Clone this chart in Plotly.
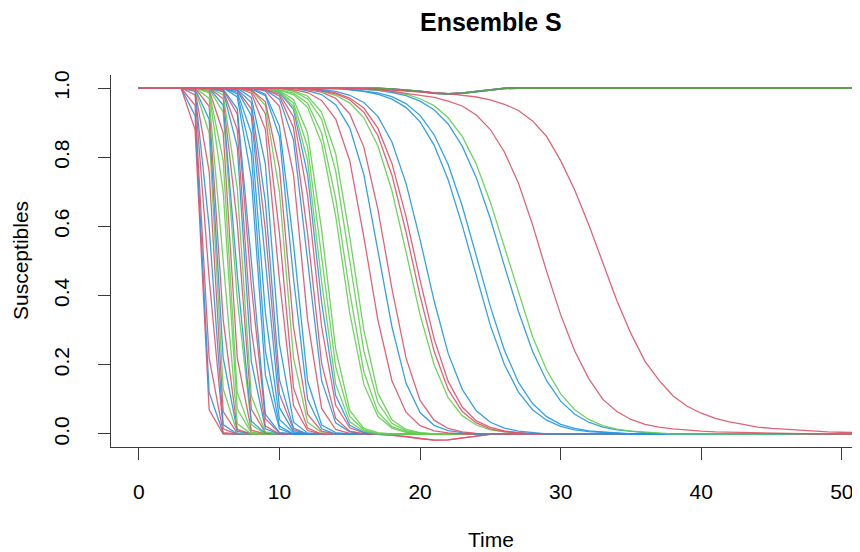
import plotly.graph_objects as go

# ---------------- data ----------------
TIME = list(range(0, 53))

RED, GREEN, BLUE = "#DF536B", "#61D04F", "#2297E6"
FLAT_GREEN = "#5E9E4E"

# each ensemble member: colour, first time step below 1, values of the decline
CURVE_COLORS = [
    RED, BLUE, RED, RED, BLUE, RED, GREEN, BLUE, RED, GREEN,
    GREEN, GREEN, RED, GREEN, BLUE, RED, GREEN, BLUE, RED, RED,
    BLUE, BLUE, BLUE, BLUE, BLUE, RED, BLUE, BLUE, RED, RED,
    GREEN, RED, BLUE, BLUE, RED, BLUE, RED, RED, BLUE, GREEN,
    GREEN, GREEN, GREEN, GREEN, GREEN, GREEN, RED, BLUE, RED, GREEN,
    RED, RED, BLUE, BLUE, BLUE, BLUE, GREEN, RED, RED,
]
CURVE_STARTS = [
    4, 4, 4, 4, 4, 4, 4, 4, 5, 5,
    5, 5, 5, 5, 6, 6, 6, 6, 6, 6,
    6, 7, 7, 7, 7, 7, 7, 8, 8, 8,
    8, 8, 8, 9, 9, 9, 9, 9, 10, 10,
    10, 10, 10, 10, 11, 11, 11, 12, 12, 13,
    13, 13, 13, 15, 15, 16, 16, 16, 16,
]
CURVE_DROPS = [
    [0.88, 0.07],
    [0.92, 0.12, 0.002],
    [0.95, 0.22, 0.004],
    [0.98, 0.45, 0.015],
    [0.99, 0.60, 0.027],
    [0.993, 0.76, 0.065, 0.002],
    [0.997, 0.87, 0.13, 0.003],
    [0.997, 0.91, 0.22, 0.008],
    [0.947, 0.33, 0.013],
    [0.97, 0.5, 0.03],
    [0.986, 0.70, 0.072, 0.003],
    [0.99, 0.79, 0.12, 0.005],
    [0.994, 0.87, 0.22, 0.011],
    [0.997, 0.93, 0.39, 0.027],
    [0.95, 0.46, 0.037, 0.002],
    [0.969, 0.61, 0.072, 0.004],
    [0.98, 0.71, 0.11, 0.006],
    [0.989, 0.83, 0.21, 0.015],
    [0.993, 0.88, 0.30, 0.023],
    [0.995, 0.925, 0.43, 0.044, 0.003],
    [0.996, 0.94, 0.5, 0.057, 0.004],
    [0.974, 0.74, 0.17, 0.015],
    [0.983, 0.81, 0.24, 0.023],
    [0.988, 0.87, 0.35, 0.042, 0.004],
    [0.993, 0.92, 0.5, 0.076, 0.007],
    [0.994, 0.94, 0.59, 0.115, 0.012],
    [0.996, 0.958, 0.67, 0.157, 0.017],
    [0.972, 0.78, 0.26, 0.034, 0.003],
    [0.985, 0.88, 0.445, 0.082, 0.01],
    [0.991, 0.926, 0.58, 0.134, 0.017],
    [0.994, 0.95, 0.70, 0.22, 0.034, 0.004],
    [0.995, 0.96, 0.77, 0.31, 0.057, 0.008],
    [0.997, 0.978, 0.86, 0.45, 0.10, 0.015],
    [0.982, 0.89, 0.55, 0.153, 0.026, 0.004],
    [0.991, 0.947, 0.75, 0.33, 0.074, 0.013, 0.002],
    [0.994, 0.968, 0.85, 0.5, 0.154, 0.032, 0.006],
    [0.996, 0.977, 0.885, 0.58, 0.204, 0.045, 0.008],
    [0.996, 0.982, 0.917, 0.69, 0.31, 0.083, 0.018, 0.003],
    [0.987, 0.938, 0.75, 0.38, 0.111, 0.025, 0.005],
    [0.988, 0.946, 0.79, 0.44, 0.144, 0.035, 0.008],
    [0.99, 0.956, 0.83, 0.52, 0.194, 0.051, 0.012, 0.002],
    [0.992, 0.967, 0.87, 0.59, 0.245, 0.068, 0.016, 0.004],
    [0.994, 0.981, 0.944, 0.84, 0.63, 0.35, 0.144, 0.051, 0.017, 0.005],
    [0.995, 0.985, 0.956, 0.87, 0.68, 0.41, 0.18, 0.064, 0.021, 0.007],
    [0.99, 0.969, 0.91, 0.76, 0.5, 0.24, 0.091, 0.031, 0.01, 0.003],
    [0.992, 0.977, 0.93, 0.81, 0.57, 0.30, 0.118, 0.041, 0.013, 0.004],
    [0.995, 0.987, 0.964, 0.91, 0.79, 0.57, 0.33, 0.154, 0.063, 0.024, 0.009, 0.003],
    [0.992, 0.981, 0.952, 0.885, 0.75, 0.535, 0.31, 0.147, 0.062, 0.025, 0.01, 0.004],
    [0.995, 0.988, 0.97, 0.925, 0.83, 0.65, 0.42, 0.22, 0.097, 0.04, 0.016, 0.006, 0.002],
    [0.99, 0.979, 0.957, 0.914, 0.833, 0.703, 0.527, 0.345, 0.2, 0.105, 0.053, 0.026,
     0.012, 0.006, 0.003],
    [0.992, 0.983, 0.966, 0.93, 0.863, 0.748, 0.584, 0.399, 0.239, 0.129, 0.065, 0.032,
     0.015, 0.007, 0.003],
    [0.993, 0.986, 0.971, 0.942, 0.884, 0.782, 0.629, 0.445, 0.275, 0.152, 0.078, 0.038,
     0.019, 0.009, 0.004],
    [0.995, 0.99, 0.979, 0.958, 0.918, 0.844, 0.725, 0.562, 0.385, 0.233, 0.129, 0.067,
     0.034, 0.017, 0.008, 0.004],
    [0.995, 0.99, 0.982, 0.968, 0.944, 0.902, 0.835, 0.735, 0.603, 0.455, 0.314, 0.201,
     0.121, 0.07, 0.04, 0.022, 0.012, 0.007, 0.004, 0.002],
    [0.996, 0.992, 0.986, 0.975, 0.955, 0.921, 0.865, 0.779, 0.659, 0.515, 0.368, 0.242,
     0.149, 0.088, 0.05, 0.028, 0.016, 0.009, 0.005, 0.003],
    [0.996, 0.993, 0.987, 0.978, 0.962, 0.937, 0.896, 0.832, 0.741, 0.622, 0.486, 0.354,
     0.239, 0.154, 0.095, 0.057, 0.034, 0.02, 0.012, 0.007, 0.004, 0.002],
    [0.997, 0.994, 0.99, 0.982, 0.969, 0.949, 0.914, 0.86, 0.78, 0.67, 0.541, 0.405,
     0.282, 0.185, 0.116, 0.07, 0.042, 0.024, 0.014, 0.008, 0.005, 0.003],
    [0.997, 0.995, 0.99, 0.985, 0.98, 0.973, 0.962, 0.948, 0.922, 0.88, 0.815, 0.725,
     0.605, 0.47, 0.345, 0.24, 0.16, 0.1, 0.065, 0.042, 0.028, 0.02, 0.015, 0.011,
     0.008, 0.006, 0.005, 0.004, 0.003, 0.002],
    [0.998, 0.996, 0.993, 0.99, 0.988, 0.986, 0.984, 0.98, 0.974, 0.966, 0.953, 0.935,
     0.905, 0.86, 0.79, 0.705, 0.605, 0.495, 0.385, 0.29, 0.21, 0.155, 0.11, 0.08,
     0.06, 0.045, 0.035, 0.028, 0.02, 0.016, 0.013, 0.01, 0.008, 0.006, 0.005,
     0.004, 0.004],
]
# members that dip slightly below zero around t = 17..25
DIP_MEMBERS = [0, 37]
BOTTOM_DIP = [-0.001, -0.003, -0.007, -0.013, -0.018, -0.017, -0.011, -0.005, -0.001]
DIP_START = 17

# members without an outbreak (stay near 1), dipping around t = 17..26
FLAT_COLORS = [RED, BLUE, FLAT_GREEN]
TOP_DIP = [0.999, 0.997, 0.994, 0.99, 0.985, 0.983, 0.985, 0.99, 0.995, 0.999]

X_TICKS = [0, 10, 20, 30, 40, 50]
Y_TICKS = [0.0, 0.2, 0.4, 0.6, 0.8, 1.0]
Y_TICK_LABELS = ["0.0", "0.2", "0.4", "0.6", "0.8", "1.0"]

TITLE = "Ensemble S"
X_TITLE = "Time"
Y_TITLE = "Susceptibles"

# ---------------- build series ----------------
N = len(TIME)


def member_series(start, drop):
    vals = [1.0] * start + list(drop)
    vals += [0.0] * (N - len(vals))
    return vals[:N]


fig = go.Figure()
LW = 1.3

for col in FLAT_COLORS:
    ys = [1.0] * DIP_START + TOP_DIP
    ys += [1.0] * (N - len(ys))
    fig.add_trace(go.Scatter(x=TIME, y=ys, mode="lines",
                             line=dict(color=col, width=1.8), hoverinfo="skip"))

for i, (col, st, dr) in enumerate(zip(CURVE_COLORS, CURVE_STARTS, CURVE_DROPS)):
    ys = member_series(st, dr)
    if i in DIP_MEMBERS:
        for j, v in enumerate(BOTTOM_DIP):
            ys[DIP_START + j] = v
    fig.add_trace(go.Scatter(x=TIME, y=ys, mode="lines", opacity=0.9,
                             line=dict(color=col, width=LW), hoverinfo="skip"))

FONT = "Liberation Sans, Arial, Helvetica, sans-serif"
AXC = "#3a3a3a"

# the page body has an 8px margin: the figure is offset by (8, 8) in the window
fig.update_layout(
    width=852, height=544,
    margin=dict(l=103, r=0, t=67, b=105),
    plot_bgcolor="white", paper_bgcolor="white",
    showlegend=False,
    font=dict(family=FONT, size=21, color="black"),
    xaxis=dict(range=[-1.98, 51.29], tickvals=X_TICKS, ticks="outside", ticklen=12,
               tickwidth=1.4, tickcolor=AXC, showline=True, linecolor=AXC, linewidth=1.4,
               showgrid=False, zeroline=False, ticklabelstandoff=14),
    yaxis=dict(range=[-0.0376, 1.0376], tickvals=Y_TICKS, ticktext=Y_TICK_LABELS,
               tickangle=-90, ticks="outside", ticklen=12, tickwidth=1.4, tickcolor=AXC,
               showline=True, linecolor=AXC, linewidth=1.4, showgrid=False,
               zeroline=False, ticklabelstandoff=20),
    annotations=[
        dict(text="<b>" + TITLE + "</b>", xref="paper", yref="paper", x=0.5067,
             y=1 + (75 - 22) / 372, xanchor="center", yanchor="middle",
             showarrow=False, font=dict(size=25, family=FONT, color="black")),
        dict(text=X_TITLE, xref="paper", yref="paper", x=0.5067,
             y=-(539 - 447) / 372, xanchor="center", yanchor="middle",
             showarrow=False, font=dict(size=21, family=FONT, color="black")),
        dict(text=Y_TITLE, xref="paper", yref="paper", x=-(111 - 20) / 749,
             y=0.5, xanchor="center", yanchor="middle", textangle=-90,
             showarrow=False, font=dict(size=21, family=FONT, color="black")),
    ],
)

fig.write_html("out.html")
